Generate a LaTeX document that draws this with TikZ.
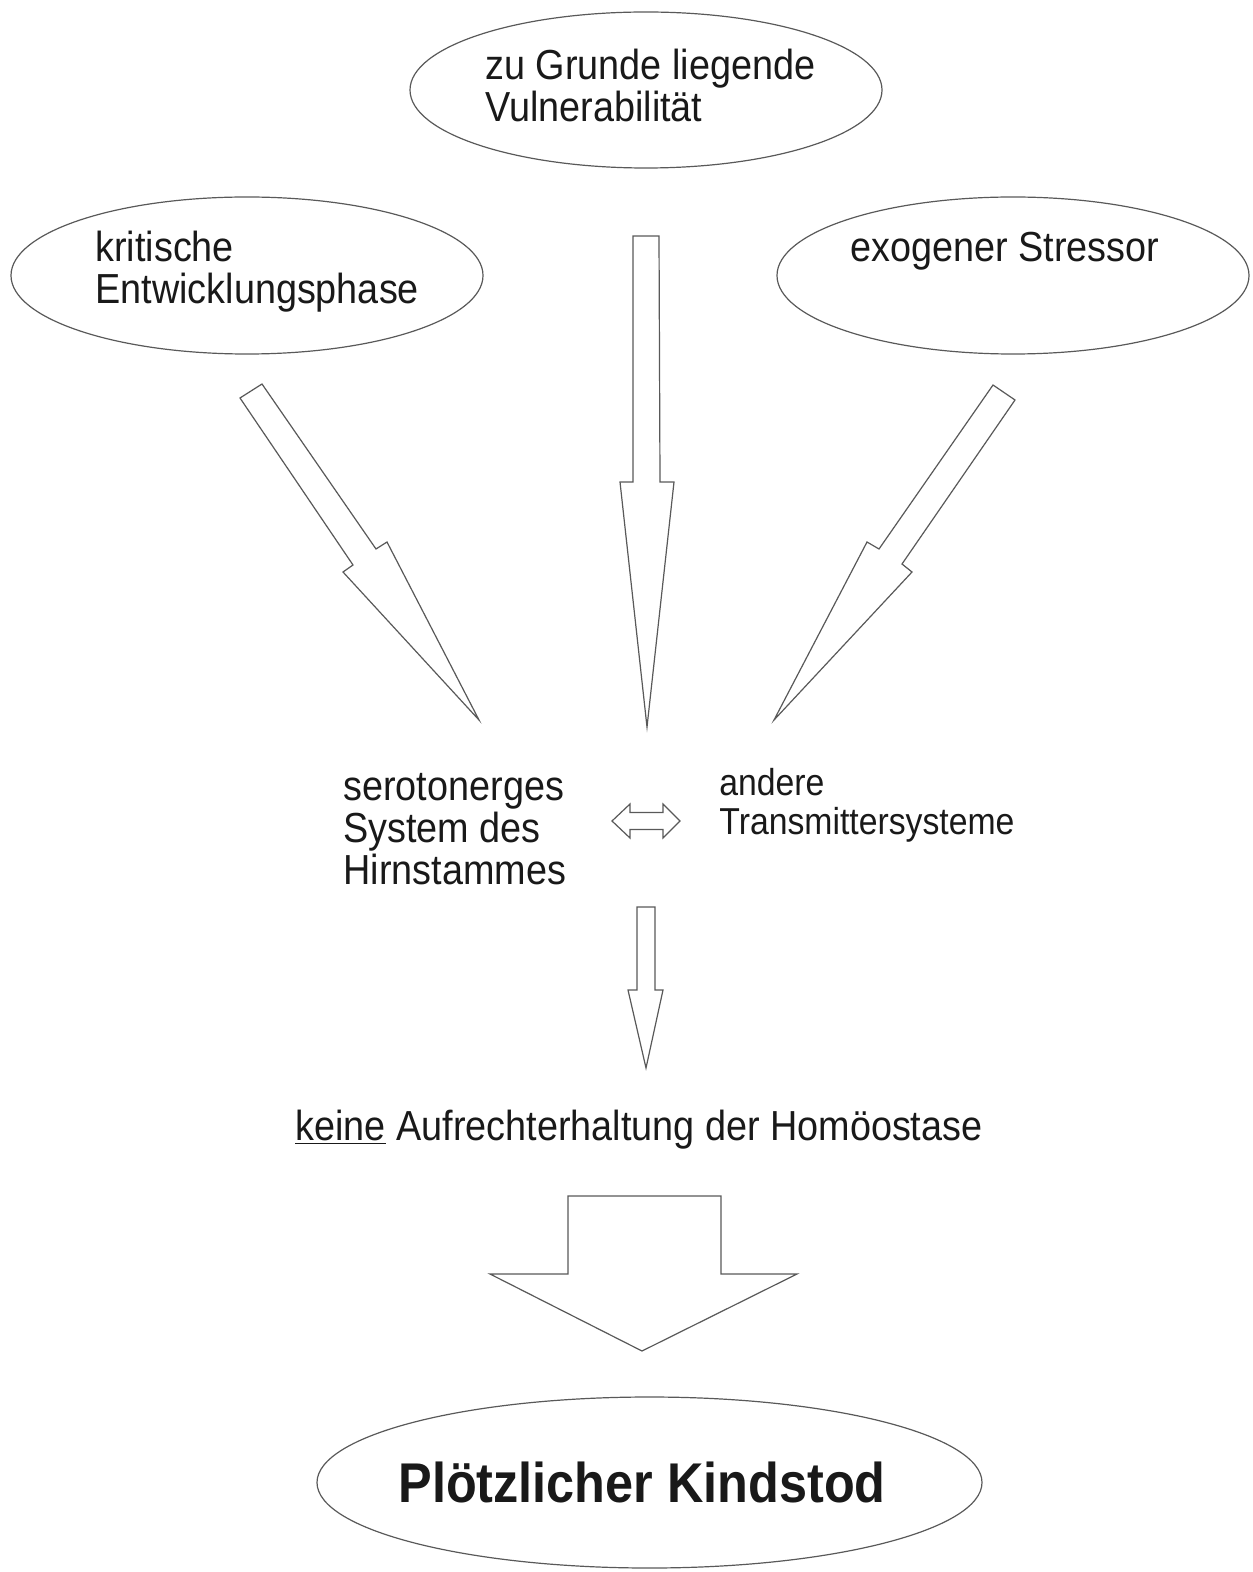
\documentclass[tikz,border=0pt]{standalone}
\usepackage{fontspec}
\setmainfont{Liberation Sans}
\usetikzlibrary{shapes.geometric}
\tikzset{
  oval/.style={draw=black!65, line width=0.6pt, ellipse, inner sep=0pt},
  txt/.style={anchor=base west, inner sep=0pt, text=black!90, font=\fontsize{21pt}{21pt}\selectfont},
  smalltxt/.style={txt, font=\fontsize{18.75pt}{18.75pt}\selectfont},
  bigtxt/.style={anchor=base, inner sep=0pt, text=black!90, font=\fontsize{28pt}{28pt}\selectfont\bfseries},
  blockarrow/.style={draw=black!65, line width=0.6pt, line join=miter, fill=white}
}
\newcommand{\nx}[1]{\scalebox{0.90}[1]{#1}}
\begin{document}
\begin{tikzpicture}[x=0.5pt, y=-0.5pt]
\useasboundingbox (0,0) rectangle (1252,1572);

% ellipses (sizes in pt = half the pixel size)
\node[oval, minimum width=236pt, minimum height=78pt] (vul) at (646,90) {};
\node[oval, minimum width=236pt, minimum height=78.5pt] (krit) at (247,275.5) {};
\node[oval, minimum width=236pt, minimum height=78.5pt] (exo) at (1013,275.5) {};
\node[oval, minimum width=332.5pt, minimum height=85.5pt] (sid) at (649.5,1482.5) {};

% texts
\node[txt] (vul1) at (485,80) {\nx{zu Grunde liegende}};
\node[txt] (vul2) at (485,122) {\nx{Vulnerabilität}};
\node[txt] (krit1) at (95,262) {\nx{kritische}};
\node[txt] (krit2) at (95,304) {\nx{Entwicklungsphase}};
\node[txt] (exo1) at (850,262) {\nx{exogener Stressor}};
\node[txt] (ser1) at (343,800) {\nx{serotonerges}};
\node[txt] (ser2) at (343,842) {\nx{System des}};
\node[txt] (ser3) at (343,884) {\nx{Hirnstammes}};
\node[smalltxt] (and1) at (719,795) {\nx{andere}};
\node[smalltxt] (and2) at (719,834) {\nx{Transmittersysteme}};
\node[txt] (hom) at (295,1140) {\nx{\underline{keine} Aufrechterhaltung der Homöostase}};
\node[bigtxt] (sidt) at (642,1502) {\nx{Plötzlicher Kindstod}};

% left diagonal arrow
\draw[blockarrow] (240,398) -- (262,384) -- (376,549) -- (387,542) -- (479,720)
  -- (343,572) -- (353,565) -- cycle;
% centre arrow
\draw[blockarrow] (633,236) -- (659,236) -- (660,482) -- (674,482) -- (647,727)
  -- (620,482) -- (633,482) -- cycle;
% right diagonal arrow
\draw[blockarrow] (993,385) -- (1015,400) -- (902,564) -- (912,572) -- (774,720)
  -- (867,542) -- (879,549) -- cycle;
% double arrow
\draw[blockarrow] (612,821) -- (630,804) -- (630,812.5) -- (663,812.5) -- (663,804)
  -- (680,821) -- (663,838) -- (663,829.5) -- (630,829.5) -- (630,838) -- cycle;
% small down arrow
\draw[blockarrow] (637,907) -- (655,907) -- (655,990) -- (663,990) -- (646,1068)
  -- (628,990) -- (637,990) -- cycle;
% big arrow
\draw[blockarrow] (568,1196) -- (721,1196) -- (721,1274) -- (797,1274) -- (642,1351)
  -- (490,1274) -- (568,1274) -- cycle;
\end{tikzpicture}
\end{document}
